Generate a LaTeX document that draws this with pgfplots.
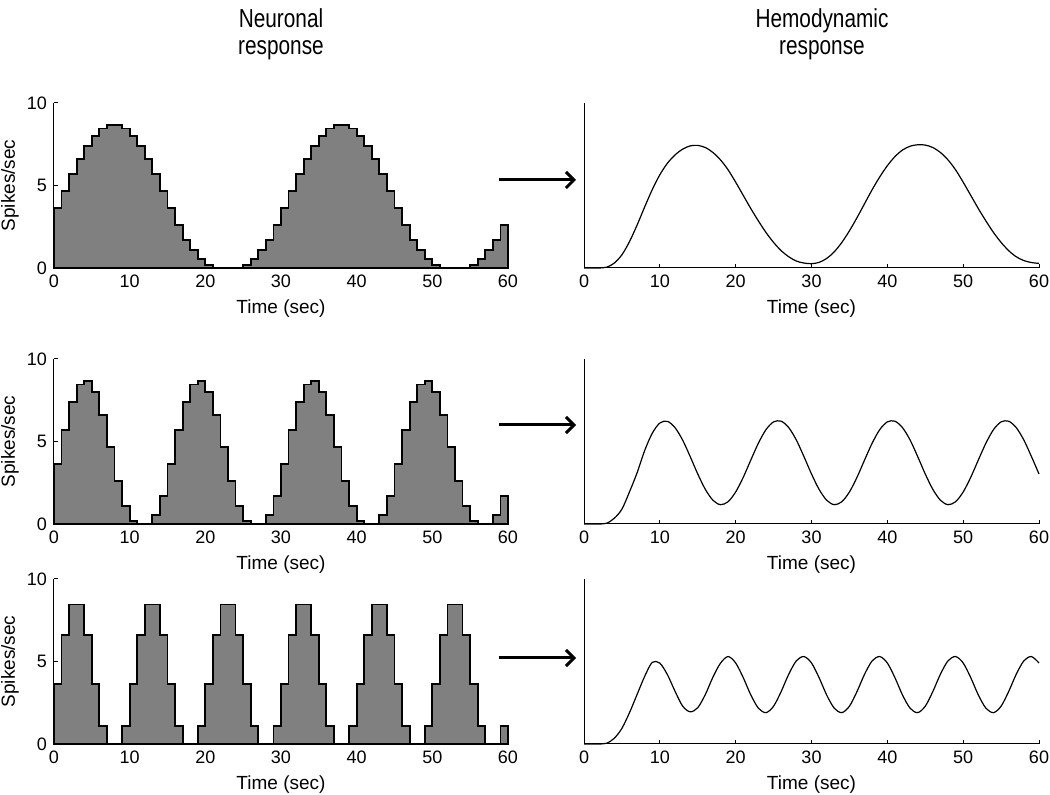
\documentclass[border=0pt]{standalone}
\usepackage{pgfplots}
\pgfplotsset{compat=1.18}
\usepackage{pgfplotstable}
\usepackage{fontspec}
\setmainfont{Liberation Sans}
\newfontfamily\titlefont{Liberation Sans}[FakeStretch=0.8]
\usetikzlibrary{arrows.meta}

% neuronal responses, 1 s bins (value at left edge of each bin)
\pgfplotstableread[row sep=\\]{
t v\\
0 3.62\\1 4.67\\2 5.70\\3 6.61\\4 7.39\\5 8.00\\6 8.46\\7 8.67\\8 8.67\\9 8.46\\
10 8.00\\11 7.39\\12 6.61\\13 5.70\\14 4.67\\15 3.62\\16 2.60\\17 1.70\\18 1.07\\19 0.53\\
20 0.18\\21 0\\22 0\\23 0\\24 0\\25 0.18\\26 0.53\\27 1.07\\28 1.70\\29 2.60\\
30 3.62\\31 4.67\\32 5.70\\33 6.61\\34 7.39\\35 8.00\\36 8.46\\37 8.67\\38 8.67\\39 8.46\\
40 8.00\\41 7.39\\42 6.61\\43 5.70\\44 4.67\\45 3.62\\46 2.60\\47 1.70\\48 1.07\\49 0.53\\
50 0.18\\51 0\\52 0\\53 0\\54 0\\55 0.18\\56 0.53\\57 1.07\\58 1.70\\59 2.60\\60 2.60\\
}\neuroA
\pgfplotstableread[row sep=\\]{
t v\\
0 3.62\\1 5.70\\2 7.39\\3 8.46\\4 8.67\\5 8.00\\6 6.61\\7 4.67\\8 2.60\\9 1.07\\
10 0.18\\11 0\\12 0\\13 0.53\\14 1.70\\15 3.62\\16 5.70\\17 7.39\\18 8.46\\19 8.67\\
20 8.00\\21 6.61\\22 4.67\\23 2.60\\24 1.07\\25 0.18\\26 0\\27 0\\28 0.53\\29 1.70\\
30 3.62\\31 5.70\\32 7.39\\33 8.46\\34 8.67\\35 8.00\\36 6.61\\37 4.67\\38 2.60\\39 1.07\\
40 0.18\\41 0\\42 0\\43 0.53\\44 1.70\\45 3.62\\46 5.70\\47 7.39\\48 8.46\\49 8.67\\
50 8.00\\51 6.61\\52 4.67\\53 2.60\\54 1.07\\55 0.18\\56 0\\57 0\\58 0.53\\59 1.70\\60 1.70\\
}\neuroB
\pgfplotstableread[row sep=\\]{
t v\\
0 3.62\\1 6.61\\2 8.46\\3 8.46\\4 6.61\\5 3.62\\6 1.07\\7 0\\8 0\\9 1.07\\
10 3.62\\11 6.61\\12 8.46\\13 8.46\\14 6.61\\15 3.62\\16 1.07\\17 0\\18 0\\19 1.07\\
20 3.62\\21 6.61\\22 8.46\\23 8.46\\24 6.61\\25 3.62\\26 1.07\\27 0\\28 0\\29 1.07\\
30 3.62\\31 6.61\\32 8.46\\33 8.46\\34 6.61\\35 3.62\\36 1.07\\37 0\\38 0\\39 1.07\\
40 3.62\\41 6.61\\42 8.46\\43 8.46\\44 6.61\\45 3.62\\46 1.07\\47 0\\48 0\\49 1.07\\
50 3.62\\51 6.61\\52 8.46\\53 8.46\\54 6.61\\55 3.62\\56 1.07\\57 0\\58 0\\59 1.07\\60 1.07\\
}\neuroC

% hemodynamic responses
\pgfplotstableread[row sep=\\]{
t v\\
0 0\\1 0\\2 0\\3 0.05\\4 0.3\\5 0.8\\6 1.6\\7 2.6\\8 3.7\\9 4.75\\
10 5.65\\11 6.35\\12 6.85\\13 7.2\\14 7.4\\15 7.43\\16 7.3\\17 7.0\\18 6.55\\19 5.95\\
20 5.2\\21 4.4\\22 3.6\\23 2.85\\24 2.15\\25 1.55\\26 1.05\\27 0.68\\28 0.42\\29 0.3\\
30 0.26\\31 0.34\\32 0.58\\33 0.98\\34 1.55\\35 2.25\\36 3.05\\37 3.9\\38 4.75\\39 5.52\\
40 6.2\\41 6.75\\42 7.15\\43 7.38\\44 7.47\\45 7.45\\46 7.3\\47 7.0\\48 6.55\\49 5.95\\
50 5.2\\51 4.4\\52 3.6\\53 2.85\\54 2.15\\55 1.55\\56 1.05\\57 0.68\\58 0.45\\59 0.33\\60 0.28\\
}\hemoA
\pgfplotstableread[row sep=\\]{
t v\\
0 0\\1 0\\2 0\\3 0.05\\4 0.35\\5 0.9\\6 1.95\\7 3.1\\8 4.45\\9 5.5\\
10 6.12\\11 6.22\\12 5.84\\13 5.09\\14 4.09\\15 3.03\\16 2.10\\17 1.44\\18 1.17\\19 1.35\\
20 1.94\\21 2.83\\22 3.88\\23 4.90\\24 5.72\\25 6.19\\26 6.23\\27 5.84\\28 5.09\\29 4.09\\
30 3.03\\31 2.10\\32 1.44\\33 1.17\\34 1.35\\35 1.94\\36 2.83\\37 3.88\\38 4.90\\39 5.72\\
40 6.19\\41 6.23\\42 5.84\\43 5.09\\44 4.09\\45 3.03\\46 2.10\\47 1.44\\48 1.17\\49 1.35\\
50 1.94\\51 2.83\\52 3.88\\53 4.90\\54 5.72\\55 6.19\\56 6.23\\57 5.84\\58 5.09\\59 4.09\\60 3.03\\
}\hemoB
\pgfplotstableread[row sep=\\]{
t v\\
0 0\\1 0\\2 0\\3 0.05\\4 0.35\\5 0.95\\6 1.9\\7 3.0\\8 4.1\\9 4.95\\
10 4.9\\11 4.2\\12 3.2\\13 2.3\\14 1.95\\15 2.2\\16 3.0\\17 4.05\\18 4.9\\19 5.30\\
20 4.91\\21 4.02\\22 2.97\\23 2.17\\24 1.90\\25 2.29\\26 3.18\\27 4.23\\28 5.04\\29 5.30\\
30 4.91\\31 4.02\\32 2.97\\33 2.17\\34 1.90\\35 2.29\\36 3.18\\37 4.23\\38 5.04\\39 5.30\\
40 4.91\\41 4.02\\42 2.97\\43 2.17\\44 1.90\\45 2.29\\46 3.18\\47 4.23\\48 5.04\\49 5.30\\
50 4.91\\51 4.02\\52 2.97\\53 2.17\\54 1.90\\55 2.29\\56 3.18\\57 4.23\\58 5.04\\59 5.30\\60 4.91\\
}\hemoC

\pgfplotsset{
  panel/.style={
    scale only axis, height=82.5pt,
    xmin=0, xmax=60, ymin=0, ymax=10,
    axis x line*=bottom, axis y line*=left,
    axis line style={-, line width=0.5pt},
    xtick={0,10,...,60},
    tick align=inside, major tick length=2pt,
    every tick/.style={black, line width=0.5pt},
    /pgf/number format/assume math mode=true,
    tick label style={font=\fontsize{9}{10}\selectfont},
    xlabel={Time (sec)},
    label style={font=\fontsize{9.5}{11}\selectfont},
    xlabel style={at={(axis description cs:0.5,0)}, anchor=base, yshift=-23pt},
    clip=false,
  },
  neuro/.style={panel, width=227pt,
    ytick={0,5,10}, ylabel={Spikes/sec},
    ylabel style={at={(axis description cs:-0.097,0.5)}, anchor=center}},
  hemo/.style={panel, width=227.5pt, ytick=\empty},
  bars/.style={const plot mark left, fill=gray, draw=black, line width=0.9pt},
  hrf/.style={black, line width=0.6pt, smooth},
}

\begin{document}
\begin{tikzpicture}
\useasboundingbox (0,0) rectangle (525pt,-397.5pt);

\begin{scope}[every node/.style={anchor=base, font=\titlefont\fontsize{13}{15}\selectfont}]
  \node at (140.5pt,-14pt) {Neuronal};
  \node at (140.5pt,-27.5pt) {response};
  \node at (411pt,-14pt) {Hemodynamic};
  \node at (411pt,-27.5pt) {response};
\end{scope}

\begin{axis}[neuro, at={(27pt,-134pt)}, anchor=south west]
  \addplot[bars] table {\neuroA} \closedcycle;
\end{axis}
\begin{axis}[hemo, at={(292pt,-134pt)}, anchor=south west]
  \addplot[hrf] table {\hemoA};
\end{axis}

\begin{axis}[neuro, at={(27pt,-262pt)}, anchor=south west]
  \addplot[bars] table {\neuroB} \closedcycle;
\end{axis}
\begin{axis}[hemo, at={(292pt,-262pt)}, anchor=south west]
  \addplot[hrf] table {\hemoB};
\end{axis}

\begin{axis}[neuro, at={(27pt,-372pt)}, anchor=south west]
  \addplot[bars] table {\neuroC} \closedcycle;
\end{axis}
\begin{axis}[hemo, at={(292pt,-372pt)}, anchor=south west]
  \addplot[hrf] table {\hemoC};
\end{axis}

\foreach \y in {-90pt,-212.5pt,-329pt}
  \draw[line width=1.5pt, -{Straight Barb[length=4pt,width=8pt]}] (249.5pt,\y) -- (288pt,\y);
\end{tikzpicture}
\end{document}
